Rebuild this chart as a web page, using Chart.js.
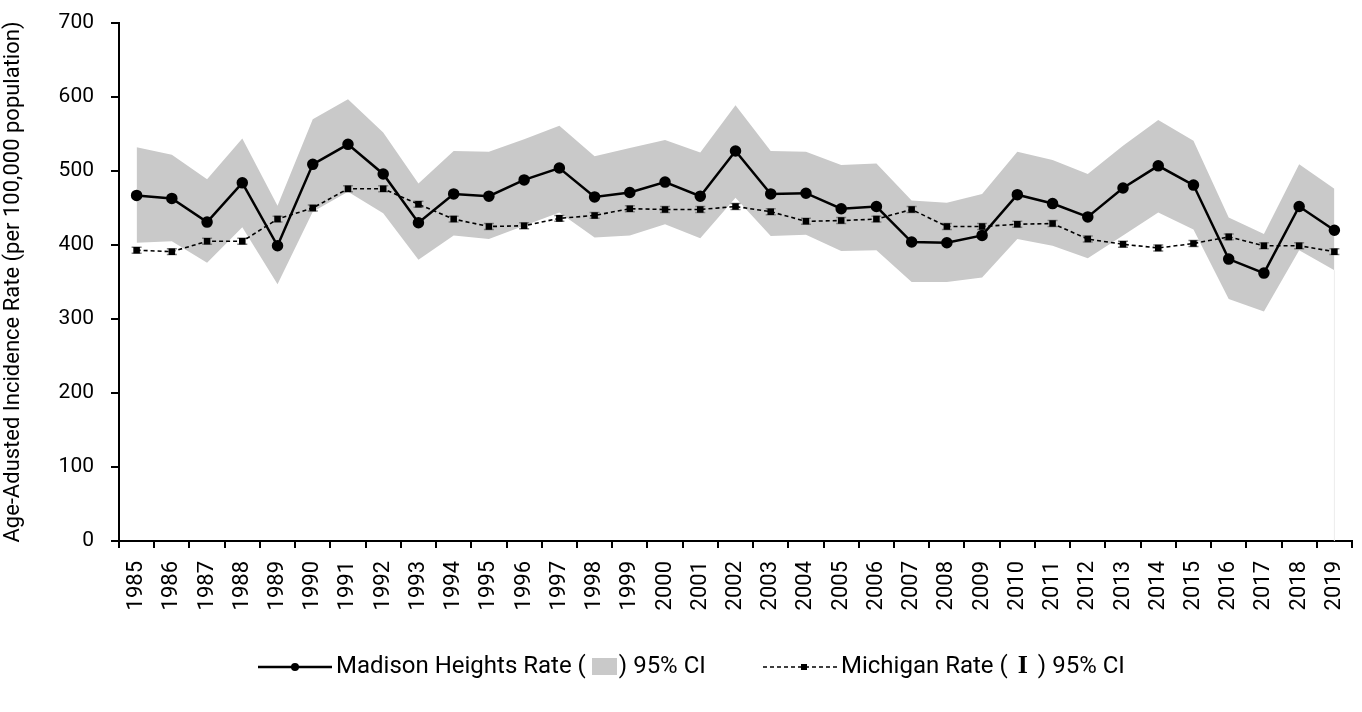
<!DOCTYPE html>
<html>
<head>
<meta charset="utf-8">
<script src="https://cdn.jsdelivr.net/npm/chart.js@4.4.1/dist/chart.umd.min.js"></script>
<style>
  html, body { margin: 0; padding: 0; background: #fff; }
  #wrap { position: relative; width: 1362px; height: 712px; }
  #legend {
    position: absolute; left: 0; top: 649px; width: 1362px; height: 32px;
    font-family: Roboto, sans-serif; font-size: 24px; color: #000;
  }
  .item { position: absolute; top: 0; height: 32px; line-height: 32px; white-space: nowrap; }
  .item svg { vertical-align: middle; margin-right: 4px; }
  .box { display: inline-block; width: 25px; height: 17px; background: #c9c9c9; vertical-align: -2px; margin: 0 2px 0 6px; }
  .ibar { font-family: "Liberation Serif", serif; font-weight: bold; font-size: 26px; margin: 0 10px; }
</style>
</head>
<body>
<div id="wrap">
  <canvas id="chart" width="1362" height="712"></canvas>
  <div id="legend">
    <div class="item" style="left:258px"><svg width="74" height="32"><line x1="0" y1="16" x2="74" y2="16" stroke="#000" stroke-width="2.5"/><circle cx="37" cy="16" r="4" fill="#000"/></svg>Madison Heights Rate (<span class="box"></span>) 95% CI</div>
    <div class="item" style="left:763px"><svg width="74" height="32"><line x1="0" y1="16" x2="74" y2="16" stroke="#000" stroke-width="1.6" stroke-dasharray="4,3"/><rect x="38" y="13" width="6" height="6" fill="#000"/></svg>Michigan Rate (<span class="ibar">I</span>) 95% CI</div>
  </div>
</div>
<script>
// Years on the category axis
const years = ['1985', '1986', '1987', '1988', '1989', '1990', '1991', '1992', '1993', '1994',
  '1995', '1996', '1997', '1998', '1999', '2000', '2001', '2002', '2003', '2004',
  '2005', '2006', '2007', '2008', '2009', '2010', '2011', '2012', '2013', '2014',
  '2015', '2016', '2017', '2018', '2019'];

// Madison Heights rate and its 95% CI band
const madisonRate = [467, 463, 431, 484, 399, 509, 536, 496, 430, 469,
  466, 488, 504, 465, 471, 485, 466, 527, 469, 470,
  449, 452, 404, 403, 413, 468, 456, 438, 477, 507,
  481, 381, 362, 452, 420];
const madisonUpper = [532, 522, 489, 544, 453, 570, 597, 552, 483, 527,
  526, 543, 561, 520, 531, 542, 525, 589, 527, 526,
  508, 510, 460, 457, 469, 526, 515, 496, 534, 569,
  541, 437, 415, 509, 476];
const madisonLower = [403, 405, 376, 424, 347, 445, 472, 443, 380, 413,
  408, 426, 444, 410, 413, 428, 409, 464, 412, 414,
  392, 393, 350, 350, 356, 408, 399, 382, 413, 444,
  421, 327, 310, 393, 366];

// Michigan rate and its 95% CI
const michiganRate = [393, 391, 405, 405, 435, 450, 476, 476, 455, 435,
  425, 426, 436, 440, 449, 448, 448, 452, 445, 432,
  433, 435, 448, 425, 425, 428, 429, 408, 401, 396,
  402, 411, 399, 399, 391];
const michiganLower = [389, 387, 401, 401, 431, 446, 472, 472, 451, 431,
  421, 422, 432, 436, 445, 444, 444, 448, 441, 428,
  429, 431, 444, 421, 421, 424, 425, 404, 397, 392,
  398, 407, 395, 395, 387];
const michiganUpper = [397, 395, 409, 409, 439, 454, 480, 480, 459, 439,
  429, 430, 440, 444, 453, 452, 452, 456, 449, 436,
  437, 439, 452, 429, 429, 432, 433, 412, 405, 400,
  406, 415, 403, 403, 395];

const yTicks = [0, 100, 200, 300, 400, 500, 600, 700];

const FONT = 'Roboto, sans-serif';

// Draw the small Michigan error bars just before the Michigan line
const errorBars = {
  id: 'errorBars',
  beforeDatasetDraw(chart, args) {
    if (args.index !== 1) return;
    const ctx = chart.ctx;
    const x = chart.scales.x;
    const y = chart.scales.y;
    ctx.save();
    ctx.strokeStyle = '#7f7f7f';
    ctx.lineWidth = 1.5;
    years.forEach((yr, i) => {
      const px = x.getPixelForValue(i);
      const top = y.getPixelForValue(michiganUpper[i]);
      const bot = y.getPixelForValue(michiganLower[i]);
      ctx.beginPath();
      ctx.moveTo(px, top); ctx.lineTo(px, bot);
      ctx.moveTo(px - 5, top); ctx.lineTo(px + 5, top);
      ctx.moveTo(px - 5, bot); ctx.lineTo(px + 5, bot);
      ctx.stroke();
    });
    ctx.restore();
  }
};

// Faint edge of the shaded area down to the axis at the last year
const bandEdge = {
  id: 'bandEdge',
  beforeDatasetsDraw(chart) {
    const ctx = chart.ctx;
    const last = years.length - 1;
    const px = chart.scales.x.getPixelForValue(last);
    ctx.save();
    ctx.strokeStyle = '#ececec';
    ctx.lineWidth = 1;
    ctx.beginPath();
    ctx.moveTo(px, chart.scales.y.getPixelForValue(madisonLower[last]));
    ctx.lineTo(px, chart.scales.y.getPixelForValue(0));
    ctx.stroke();
    ctx.restore();
  }
};

new Chart(document.getElementById('chart'), {
  type: 'line',
  data: {
    labels: years,
    datasets: [
      {
        label: 'Madison Heights Rate',
        data: madisonRate,
        borderColor: '#000',
        backgroundColor: '#000',
        borderWidth: 2.5,
        pointRadius: 4.5,
        pointStyle: 'circle',
        fill: false,
        order: 1,
      },
      {
        label: 'Michigan Rate',
        data: michiganRate,
        borderColor: '#000',
        backgroundColor: '#000',
        borderWidth: 1.6,
        borderDash: [4, 3],
        pointRadius: 3.5,
        pointStyle: 'rect',
        fill: false,
        order: 2,
      },
      {
        label: 'Upper CI',
        data: madisonUpper,
        borderWidth: 0,
        pointRadius: 0,
        backgroundColor: '#c9c9c9',
        fill: '+1',
        order: 3,
      },
      {
        label: 'Lower CI',
        data: madisonLower,
        borderWidth: 0,
        pointRadius: 0,
        backgroundColor: '#c9c9c9',
        fill: false,
        order: 4,
      },
    ],
  },
  options: {
    responsive: false,
    animation: false,
    layout: { padding: { top: 23, right: 10, left: 0, bottom: 0 } },
    plugins: {
      legend: { display: false },
      tooltip: { enabled: false },
    },
    scales: {
      x: {
        type: 'category',
        offset: true,
        grid: { offset: true, drawOnChartArea: false, drawTicks: true, tickLength: 7, color: '#000', lineWidth: 2 },
        border: { display: true, color: '#000', width: 2 },
        ticks: { color: '#000', font: { family: FONT, size: 22 }, maxRotation: 90, minRotation: 90, padding: 13, autoSkip: false },
        afterFit: (scale) => {
          scale.height = 171;
          scale.paddingLeft = 0;
          scale.paddingRight = 0;
        },
      },
      y: {
        min: 0,
        max: 700,
        afterBuildTicks: (scale) => { scale.ticks = yTicks.map(v => ({ value: v })); },
        grid: { drawOnChartArea: false, drawTicks: true, tickLength: 8, color: '#000', lineWidth: 2 },
        border: { display: true, color: '#000', width: 2 },
        ticks: { color: '#000', font: { family: FONT, size: 21 }, padding: 17 },
        title: { display: true, text: 'Age-Adusted Incidence Rate (per 100,000 population)', color: '#000', font: { family: FONT, size: 22 }, padding: { top: 0, bottom: 2 } },
        afterFit: (scale) => {
          scale.width = 119;
          scale.paddingTop = 0;
          scale.paddingBottom = 0;
        },
      },
    },
  },
  plugins: [errorBars, bandEdge],
});
</script>
</body>
</html>
